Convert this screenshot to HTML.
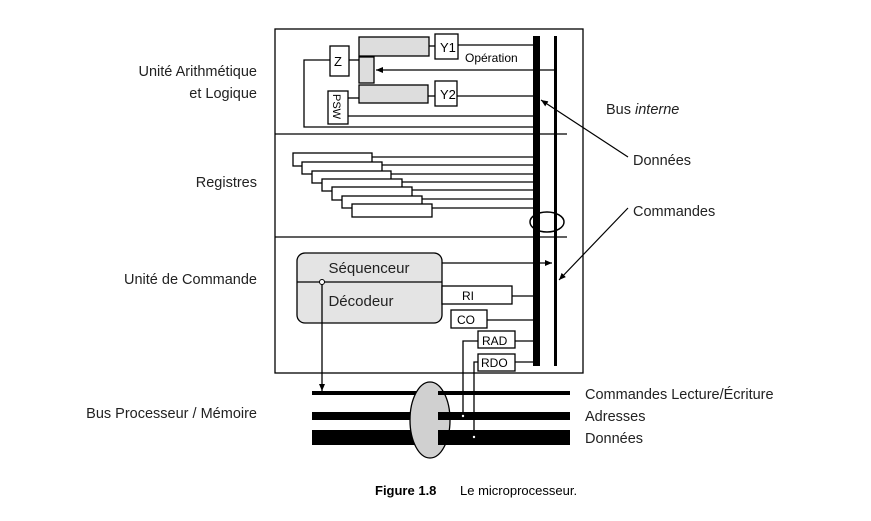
<!DOCTYPE html>
<html><head><meta charset="utf-8"><style>
body{margin:0;background:#fff;}
svg{display:block;font-family:"Liberation Sans",sans-serif;}
</style></head><body>
<svg width="871" height="521" viewBox="0 0 871 521" xmlns="http://www.w3.org/2000/svg">
<defs><marker id="a" markerWidth="8" markerHeight="8" refX="7" refY="4" orient="auto" markerUnits="userSpaceOnUse"><path d="M0,1 L7,4 L0,7 z" fill="#000"/></marker></defs>
<g fill="none" stroke="#000" stroke-width="1.3">
<rect x="275" y="29" width="308" height="344"/>
<line x1="275" y1="134" x2="567" y2="134"/>
<line x1="275" y1="237" x2="567" y2="237"/>
</g>
<!-- buses -->
<rect x="533" y="36" width="7" height="330" fill="#000"/>
<rect x="554" y="36" width="3" height="330" fill="#000"/>
<!-- ALU -->
<g stroke="#000" stroke-width="1.3">
<rect x="359" y="37" width="70" height="19" fill="#ddd"/>
<rect x="359" y="57" width="15" height="26" fill="#ddd"/>
<rect x="359" y="85" width="69" height="18" fill="#ddd"/>
<rect x="435" y="34" width="23" height="25" fill="#fff"/>
<rect x="435" y="81" width="22" height="25" fill="#fff"/>
<rect x="330" y="46" width="19" height="30" fill="#fff"/>
<rect x="328" y="91" width="20" height="33" fill="#fff"/>
<g fill="none">
<line x1="429" y1="46" x2="435" y2="46"/><line x1="458" y1="45" x2="533" y2="45"/>
<line x1="428" y1="96" x2="435" y2="96"/><line x1="457" y1="96" x2="533" y2="96"/>
<line x1="554" y1="70" x2="376" y2="70" marker-end="url(#a)"/>
<line x1="349" y1="60" x2="359" y2="60"/>
<polyline points="330,60 304,60 304,127 533,127"/>
<line x1="348" y1="98" x2="359" y2="98"/>
<line x1="348" y1="116" x2="533" y2="116"/>
</g></g>
<text x="440" y="52" font-size="13">Y1</text>
<text x="440" y="99" font-size="13">Y2</text>
<text x="334" y="66" font-size="13">Z</text>
<text x="0" y="0" font-size="11" transform="translate(333,94) rotate(90)">PSW</text>
<text x="465" y="62" font-size="12">Opération</text>
<!-- registers -->
<g stroke="#000" stroke-width="1.3" fill="#fff">
<rect x="293" y="153" width="79" height="13"/>
<rect x="302" y="162" width="80" height="12"/>
<rect x="312" y="171" width="79" height="12"/>
<rect x="322" y="179" width="80" height="12"/>
<rect x="332" y="187" width="80" height="13"/>
<rect x="342" y="196" width="80" height="12"/>
<rect x="352" y="204" width="80" height="13"/>
<line x1="372" y1="157" x2="533" y2="157"/>
<line x1="382" y1="165" x2="533" y2="165"/>
<line x1="391" y1="174" x2="533" y2="174"/>
<line x1="402" y1="182" x2="533" y2="182"/>
<line x1="412" y1="190" x2="533" y2="190"/>
<line x1="422" y1="199" x2="533" y2="199"/>
<line x1="432" y1="208" x2="533" y2="208"/>
</g>
<ellipse cx="547" cy="222" rx="17" ry="10" fill="none" stroke="#000" stroke-width="1.5"/>
<!-- control -->
<g stroke="#000" stroke-width="1.3">
<rect x="297" y="253" width="145" height="70" rx="8" fill="#e4e4e4"/>
<line x1="297" y1="282" x2="442" y2="282"/>
<line x1="442" y1="263" x2="552" y2="263" marker-end="url(#a)"/>
<rect x="442" y="286" width="70" height="18" fill="#fff"/>
<line x1="512" y1="296" x2="533" y2="296"/>
<rect x="451" y="310" width="36" height="18" fill="#fff"/>
<line x1="487" y1="320" x2="533" y2="320"/>
<rect x="478" y="331" width="37" height="17" fill="#fff"/>
<line x1="515" y1="341" x2="533" y2="341"/>
<rect x="478" y="354" width="37" height="17" fill="#fff"/>
<line x1="515" y1="362" x2="533" y2="362"/>
<line x1="322" y1="282" x2="322" y2="391" marker-end="url(#a)"/>
</g>
<circle cx="322" cy="282" r="2.5" fill="#fff" stroke="#000"/>
<text x="369" y="273" font-size="15" text-anchor="middle" fill="#222">Séquenceur</text>
<text x="361" y="306" font-size="15" text-anchor="middle" fill="#222">Décodeur</text>
<text x="462" y="300" font-size="12">RI</text>
<text x="457" y="324" font-size="12">CO</text>
<text x="482" y="345" font-size="12">RAD</text>
<text x="481" y="367" font-size="12">RDO</text>
<!-- external bus -->
<rect x="312" y="391" width="258" height="4" fill="#000"/>
<rect x="312" y="412" width="258" height="8" fill="#000"/>
<rect x="312" y="430" width="258" height="15" fill="#000"/>
<ellipse cx="430" cy="420" rx="20" ry="38" fill="#d0d0d0" stroke="#000" stroke-width="1.3"/>
<rect x="438" y="391" width="132" height="4" fill="#000"/>
<rect x="438" y="412" width="132" height="8" fill="#000"/>
<rect x="438" y="430" width="132" height="15" fill="#000"/>
<g fill="none" stroke="#000" stroke-width="1.3">
<polyline points="478,341 463,341 463,416"/>
<polyline points="478,362 474,362 474,437"/>
</g>
<circle cx="463" cy="416" r="1.2" fill="#fff"/>
<circle cx="474" cy="437" r="1.2" fill="#fff"/>
<!-- pointers -->
<g stroke="#000" stroke-width="1.2" fill="none">
<line x1="628" y1="157" x2="541" y2="100" marker-end="url(#a)"/>
<line x1="628" y1="208" x2="559" y2="280" marker-end="url(#a)"/>
</g>
<g font-size="14.5" fill="#222">
<text x="257" y="76" text-anchor="end">Unité Arithmétique</text>
<text x="257" y="98" text-anchor="end">et Logique</text>
<text x="257" y="187" text-anchor="end">Registres</text>
<text x="257" y="284" text-anchor="end">Unité de Commande</text>
<text x="257" y="418" text-anchor="end">Bus Processeur / Mémoire</text>
<text x="606" y="114">Bus <tspan font-style="italic">interne</tspan></text>
<text x="633" y="165">Données</text>
<text x="633" y="216">Commandes</text>
<text x="585" y="399">Commandes Lecture/Écriture</text>
<text x="585" y="421">Adresses</text>
<text x="585" y="443">Données</text>
</g>
<text x="375" y="495" font-size="13" font-weight="bold">Figure 1.8</text>
<text x="460" y="495" font-size="13">Le microprocesseur.</text>
</svg>
</body></html>
